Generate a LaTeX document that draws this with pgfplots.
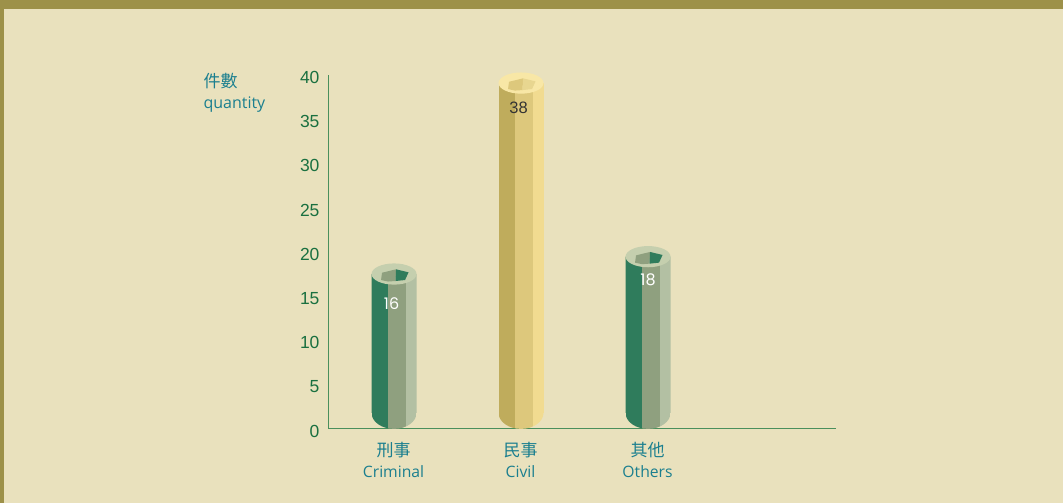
\documentclass[border=0pt]{standalone}
\usepackage{pgfplots}
\usepackage{pgfplotstable}
\usepackage{fontspec}
\pgfplotsset{compat=1.18}
\setmainfont{Liberation Sans}
\newfontfamily\cjk{Noto Sans CJK TC}
\newfontfamily\lab{Open Sans}
\newfontfamily\num{Poppins}
\newcommand\zh[1]{{\cjk\fontsize{17}{21}\selectfont #1}}

\definecolor{bg}{HTML}{E9E1BD}
\definecolor{frame}{HTML}{9D9149}
\definecolor{teal}{HTML}{1B7F8F}
\definecolor{axisgreen}{HTML}{4A8F5C}
\definecolor{tickgreen}{HTML}{1A7040}
\definecolor{gd}{HTML}{2F7C5C}
\definecolor{gm}{HTML}{8FA07F}
\definecolor{gl}{HTML}{B3C0A3}
\definecolor{gr}{HTML}{C5CFAE}
\definecolor{yd}{HTML}{BFAC5C}
\definecolor{ym}{HTML}{DDC87C}
\definecolor{yl}{HTML}{F1DB90}
\definecolor{yr}{HTML}{F8E7A6}
\definecolor{yh}{HTML}{E8D690}

% lower end of a cylinder, three tones
\newcommand\tonerects[5]{%
  \pgfsetfillcolor{#1}\pgfpathrectanglecorners{\pgfpoint{-22.5pt}{#4}}{\pgfpoint{-6.2pt}{#5}}\pgfusepathqfill
  \pgfsetfillcolor{#2}\pgfpathrectanglecorners{\pgfpoint{-6.5pt}{#4}}{\pgfpoint{11.8pt}{#5}}\pgfusepathqfill
  \pgfsetfillcolor{#3}\pgfpathrectanglecorners{\pgfpoint{11.5pt}{#4}}{\pgfpoint{22.5pt}{#5}}\pgfusepathqfill}
\newcommand\cylbase[3]{%
  \begin{pgfscope}
    \pgfpathellipse{\pgfpointorigin}{\pgfpoint{22.5pt}{0pt}}{\pgfpoint{0pt}{16pt}}
    \pgfusepathqclip
    \tonerects{#1}{#2}{#3}{-17pt}{0.3pt}%
  \end{pgfscope}}
% top ring with the hexagon hole
\newcommand\cyltop[3]{%
  \pgfsetfillcolor{#1}
  \pgfpathellipse{\pgfpointorigin}{\pgfpoint{22.5pt}{0pt}}{\pgfpoint{0pt}{10.6pt}}\pgfusepathqfill
  \pgfsetfillcolor{#2}
  \pgfpathmoveto{\pgfpoint{2pt}{4.7pt}}\pgfpathlineto{\pgfpoint{-12pt}{1.3pt}}
  \pgfpathlineto{\pgfpoint{-13pt}{-6pt}}\pgfpathlineto{\pgfpoint{-6pt}{-7.5pt}}
  \pgfpathlineto{\pgfpoint{1.5pt}{-7pt}}\pgfpathclose\pgfusepathqfill
  \pgfsetfillcolor{#3}
  \pgfpathmoveto{\pgfpoint{2pt}{4.7pt}}\pgfpathlineto{\pgfpoint{14.5pt}{1.7pt}}
  \pgfpathlineto{\pgfpoint{11pt}{-6pt}}\pgfpathlineto{\pgfpoint{1.5pt}{-7pt}}
  \pgfpathclose\pgfusepathqfill}
\pgfdeclareplotmark{basegreen}{\cylbase{gd}{gm}{gl}}
\pgfdeclareplotmark{baseyellow}{\cylbase{yd}{ym}{yl}}
\pgfdeclareplotmark{topgreen}{\cyltop{gr}{gm}{gd}}
\pgfdeclareplotmark{topyellow}{\cyltop{yr}{ym}{yh}}

\pgfplotstableread{
x y dx dy
0 16 3.5 -30
2 18 6 -23
}\greendata
\pgfplotstableread{
x y dx dy
1 38 -8.5 -25
}\yellowdata

\pgfplotsset{
  cyl/.style={
    only marks, mark=#1,
    visualization depends on={\thisrow{dx} \as \dx},
    visualization depends on={\thisrow{dy} \as \dy},
    nodes near coords,
  },
}

\begin{document}
\begin{tikzpicture}[x=1pt,y=1pt]
  \fill[frame] (0,0) rectangle (1063,503);
  \fill[bg] (4,0) rectangle (1063,494);
  % the axis that is seen
  \begin{axis}[
      at={(328pt,74pt)}, anchor=south west,
      scale only axis, width=508pt, height=354pt,
      xmin=-0.52, xmax=3.48, ymin=0, ymax=40,
      axis lines=left, axis line style={axisgreen, -, line width=1pt},
      major tick length=0pt,
      ytick={0,5,...,40},
      xtick={0,1,2},
      xticklabels={{\zh{刑事}\\Criminal},{\zh{民事}\\Civil},{\zh{其他}\\Others}},
      xticklabel style={align=center, font=\lab\fontsize{15.7}{21.5}\selectfont,
        text=teal, yshift=-9.5pt, xshift=-0.5pt},
      yticklabel style={font=\fontsize{17.5}{20}\selectfont, text=tickgreen,
        yshift=-2.3pt, xshift=-5pt},
      /pgf/number format/assume math mode=true,
    ]
    \addplot[draw=none] coordinates {(0,0)};
  \end{axis}
  \node[anchor=west, align=left, text=teal, font=\lab\fontsize{16}{21}\selectfont]
    at (200,410.5) {\zh{件數}\\quantity};
  % the cylinders, y=0 stands above the axis line as in the reference
  \begin{axis}[
      at={(328pt,74pt)}, anchor=south west,
      scale only axis, width=508pt, height=354pt,
      xmin=-0.52, xmax=3.48, ymin=-1.855, ymax=38.93,
      hide axis, clip=false, ybar,
      /pgf/number format/assume math mode=true,
      every node near coord/.append style={anchor=center,
        xshift=\dx pt, yshift=\dy pt},
    ]
    \addplot[only marks, mark=basegreen, forget plot] table[x=x, y expr=0] {\greendata};
    \addplot[only marks, mark=baseyellow, forget plot] table[x=x, y expr=0] {\yellowdata};
    \addplot[ybar, fill=gl, draw=none, bar width=11pt, bar shift=17pt] table[x=x, y=y] {\greendata};
    \addplot[ybar, fill=gm, draw=none, bar width=18.3pt, bar shift=2.65pt] table[x=x, y=y] {\greendata};
    \addplot[ybar, fill=gd, draw=none, bar width=16.3pt, bar shift=-14.35pt] table[x=x, y=y] {\greendata};
    \addplot[ybar, fill=yl, draw=none, bar width=11pt, bar shift=17pt] table[x=x, y=y] {\yellowdata};
    \addplot[ybar, fill=ym, draw=none, bar width=18.3pt, bar shift=2.65pt] table[x=x, y=y] {\yellowdata};
    \addplot[ybar, fill=yd, draw=none, bar width=16.3pt, bar shift=-14.35pt] table[x=x, y=y] {\yellowdata};
    \addplot[cyl=topgreen, every node near coord/.append style={text=white,
        font=\num\fontsize{16}{18}\selectfont}] table[x=x, y=y] {\greendata};
    \addplot[cyl=topyellow, every node near coord/.append style={text=black!80,
        font=\fontsize{16.5}{18}\selectfont}] table[x=x, y=y] {\yellowdata};
  \end{axis}
\end{tikzpicture}
\end{document}
